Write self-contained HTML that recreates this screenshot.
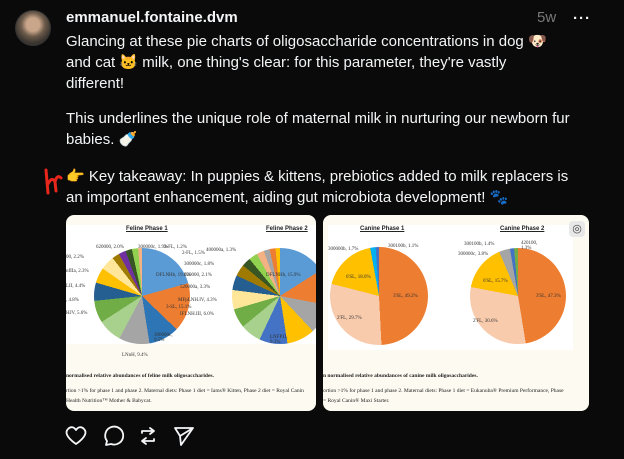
<!DOCTYPE html>
<html><head><meta charset="utf-8"><style>
*{margin:0;padding:0;box-sizing:border-box}
body{width:624px;height:459px;background:#0a0a0a;color:#f3f5f7;font-family:"Liberation Sans",sans-serif;position:relative;overflow:hidden}
.av{position:absolute;left:15px;top:10px;width:36px;height:36px;border-radius:50%;background:radial-gradient(circle at 50% 40%,#c9a58a 0 25%,#6b5a4a 45%,#3a3530 70%);border:1px solid #333}
.un{position:absolute;left:66px;top:9px;font-size:15px;font-weight:bold}
.tm{position:absolute;left:537px;top:9px;font-size:15px;color:#777}
.dots{position:absolute;left:573px;top:10px;font-size:15px;font-weight:bold;letter-spacing:1px}
.tx{position:absolute;left:66px;font-size:15px;line-height:21px;white-space:nowrap}
.card{position:absolute;top:215px;height:196px;background:#fdfbf1;border-radius:8px;overflow:hidden}
.wh{position:absolute;top:10px;height:119px;background:#fff}
.pie{position:absolute;border-radius:50%}
.t{position:absolute;font-family:"Liberation Serif",serif;font-size:5px;color:#333;white-space:nowrap}
.ti{position:absolute;font-size:6px;font-weight:bold;text-decoration:underline;color:#222;white-space:nowrap}
.cap{position:absolute;font-family:"Liberation Serif",serif;font-size:5.5px;color:#222;white-space:nowrap}
</style></head><body>
<div class="av"></div>
<div class="un">emmanuel.fontaine.dvm</div>
<div class="tm">5w</div>
<div class="dots">···</div>
<div class="tx" style="top:31px">Glancing at these pie charts of oligosaccharide concentrations in dog 🐶<br>and cat 🐱 milk, one thing's clear: for this parameter, they're vastly<br>different!</div>
<div class="tx" style="top:108px">This underlines the unique role of maternal milk in nurturing our newborn fur<br>babies. 🍼</div>
<div class="tx" style="top:166px">👉 Key takeaway: In puppies &amp; kittens, prebiotics added to milk replacers is<br>an important enhancement, aiding gut microbiota development! 🐾</div>
<svg style="position:absolute;left:42px;top:168px" width="24" height="28" fill="none" stroke="#e8261c" stroke-width="3" stroke-linecap="round"><path d="M4 2 L6 25 M6 16 Q10 8 13 14 L14 23 M13 14 Q15 6 19 10"/></svg>

<div class="card" style="left:66px;width:250px">
 <div class="wh" style="left:0;width:250px"></div>
 <div class="ti" style="left:60px;top:11px">Feline Phase 1</div>
 <div class="ti" style="left:200px;top:11px">Feline Phase 2</div>
 <div class="pie" style="left:28px;top:33px;width:96px;height:96px;background:conic-gradient(#5b9bd5 0 20.7%,#ed7d31 0 37.2%,#2e75b6 0 47.5%,#a5a5a5 0 57.8%,#a9d18e 0 65.9%,#70ad47 0 73.4%,#255e91 0 79.5%,#ffc000 0 84.7%,#ffe699 0 89.5%,#9e7b00 0 92%,#7030a0 0 94.4%,#375623 0 96.6%,#92d050 0 98.7%,#f4b183 0 100%)"></div>
 <div class="pie" style="left:166px;top:33px;width:96px;height:96px;background:conic-gradient(#5b9bd5 0 16%,#ed7d31 0 28%,#a5a5a5 0 38%,#ffc000 0 47.5%,#4472c4 0 57%,#a9d18e 0 64%,#70ad47 0 70.5%,#ffe699 0 77%,#255e91 0 82%,#9e7b00 0 86%,#375623 0 89%,#92d050 0 92%,#f4b183 0 94.5%,#a5a5a5 0 96.5%,#ed7d31 0 98.5%,#ffc000 0 100%)"></div>
 <div class="t" style="left:90px;top:58px">DFLNHb, 19.0%</div>
 <div class="t" style="left:100px;top:90px">3-SL, 15.1%</div>
 <div class="t" style="left:30px;top:30px">620000, 2.0%</div>
 <div class="t" style="left:72px;top:30px">300000c, 1.9%</div>
 <div class="t" style="left:98px;top:30px">2-FL, 1.2%</div>
 <div class="t" style="left:0;top:40px">00, 2.2%</div>
 <div class="t" style="left:0;top:54px">nfIIa, 2.3%</div>
 <div class="t" style="left:0;top:69px">LII, 4.4%</div>
 <div class="t" style="left:0;top:83px">, 4.8%</div>
 <div class="t" style="left:0;top:96px">HJV, 5.6%</div>
 <div class="t" style="left:56px;top:138px">LNnH, 9.4%</div>
 <div class="t" style="left:88px;top:118px">300000c,<br>9.5%</div>
 <div class="t" style="left:200px;top:58px">DFLNHb, 15.9%</div>
 <div class="t" style="left:140px;top:33px">400000a, 1.3%</div>
 <div class="t" style="left:116px;top:36px">2-FL, 1.5%</div>
 <div class="t" style="left:118px;top:47px">300000c, 1.8%</div>
 <div class="t" style="left:118px;top:58px">620000, 2.1%</div>
 <div class="t" style="left:114px;top:70px">520000a, 3.3%</div>
 <div class="t" style="left:112px;top:83px">MFpLNH.IV, 4.3%</div>
 <div class="t" style="left:114px;top:97px">IFLNH.III, 6.0%</div>
 <div class="t" style="left:204px;top:120px">LNFP.II,<br>9.3%</div>
 <div class="cap" style="left:0;top:158px;font-weight:bold">normalised relative abundances of feline milk oligosaccharides.</div>
 <div class="cap" style="left:0;top:173px">rtion &gt;1% for phase 1 and phase 2. Maternal diets: Phase 1 diet = Iams® Kitten, Phase 2 diet = Royal Canin</div>
 <div class="cap" style="left:0;top:183px">Health Nutrition™ Mother &amp; Babycat.</div>
</div>

<div class="card" style="left:323px;width:266px">
 <div class="wh" style="left:5px;width:245px;height:125px"></div>
 <div class="ti" style="left:37px;top:11px">Canine Phase 1</div>
 <div class="ti" style="left:177px;top:11px">Canine Phase 2</div>
 <div class="pie" style="left:7px;top:32px;width:98px;height:98px;background:conic-gradient(#ed7d31 0 49.2%,#f8cbad 0 79%,#ffc000 0 97.1%,#00b0f0 0 98.9%,#4472c4 0 100%)"></div>
 <div class="pie" style="left:147px;top:33px;width:96px;height:96px;background:conic-gradient(#ed7d31 0 47.4%,#f8cbad 0 78%,#ffc000 0 93.6%,#a5a5a5 0 97.3%,#4472c4 0 98.7%,#70ad47 0 100%)"></div>
 <div class="t" style="left:70px;top:79px">3'SL, 49.2%</div>
 <div class="t" style="left:14px;top:101px">2'FL, 29.7%</div>
 <div class="t" style="left:23px;top:60px">6'SL, 18.0%</div>
 <div class="t" style="left:5px;top:32px">300000b, 1.7%</div>
 <div class="t" style="left:65px;top:29px">300100b, 1.1%</div>
 <div class="t" style="left:213px;top:79px">3'SL, 47.3%</div>
 <div class="t" style="left:150px;top:104px">2'FL, 30.6%</div>
 <div class="t" style="left:160px;top:64px">6'SL, 15.7%</div>
 <div class="t" style="left:135px;top:37px">300000c, 3.8%</div>
 <div class="t" style="left:141px;top:27px">300100b, 1.4%</div>
 <div class="t" style="left:198px;top:26px">420100,<br>1.3%</div>
 <div style="position:absolute;left:246px;top:6px;width:16px;height:16px;border-radius:4px;background:#e8e8e8;font-size:11px;color:#444;text-align:center;line-height:16px">◎</div>
 <div class="cap" style="left:0;top:158px;font-weight:bold">n normalised relative abundances of canine milk oligosaccharides.</div>
 <div class="cap" style="left:0;top:173px">ortion &gt;1% for phase 1 and phase 2. Maternal diets: Phase 1 diet = Eukanuba® Premium Performance, Phase</div>
 <div class="cap" style="left:0;top:183px">= Royal Canin® Maxi Starter.</div>
</div>

<svg style="position:absolute;left:62px;top:424px" width="140" height="24" fill="none" stroke="#f3f5f7" stroke-width="1.8" stroke-linejoin="round" stroke-linecap="round">
 <path d="M14 20 C4 13 3 8 6 5 C9 2 12 3 14 6 C16 3 19 2 22 5 C25 8 24 13 14 20Z"/>
 <path d="M49 20 L44 21 L45 17 A9 9 0 1 1 49 20Z"/>
 <path d="M80 9 V7 H92 M88 4 L92 7 L88 10 M92 15 V17 H80 M84 20 L80 17 L84 14"/>
 <path d="M113 4 L131 4 L119 21 L118 12 Z M118 12 L131 4"/>
</svg>
</body></html>
